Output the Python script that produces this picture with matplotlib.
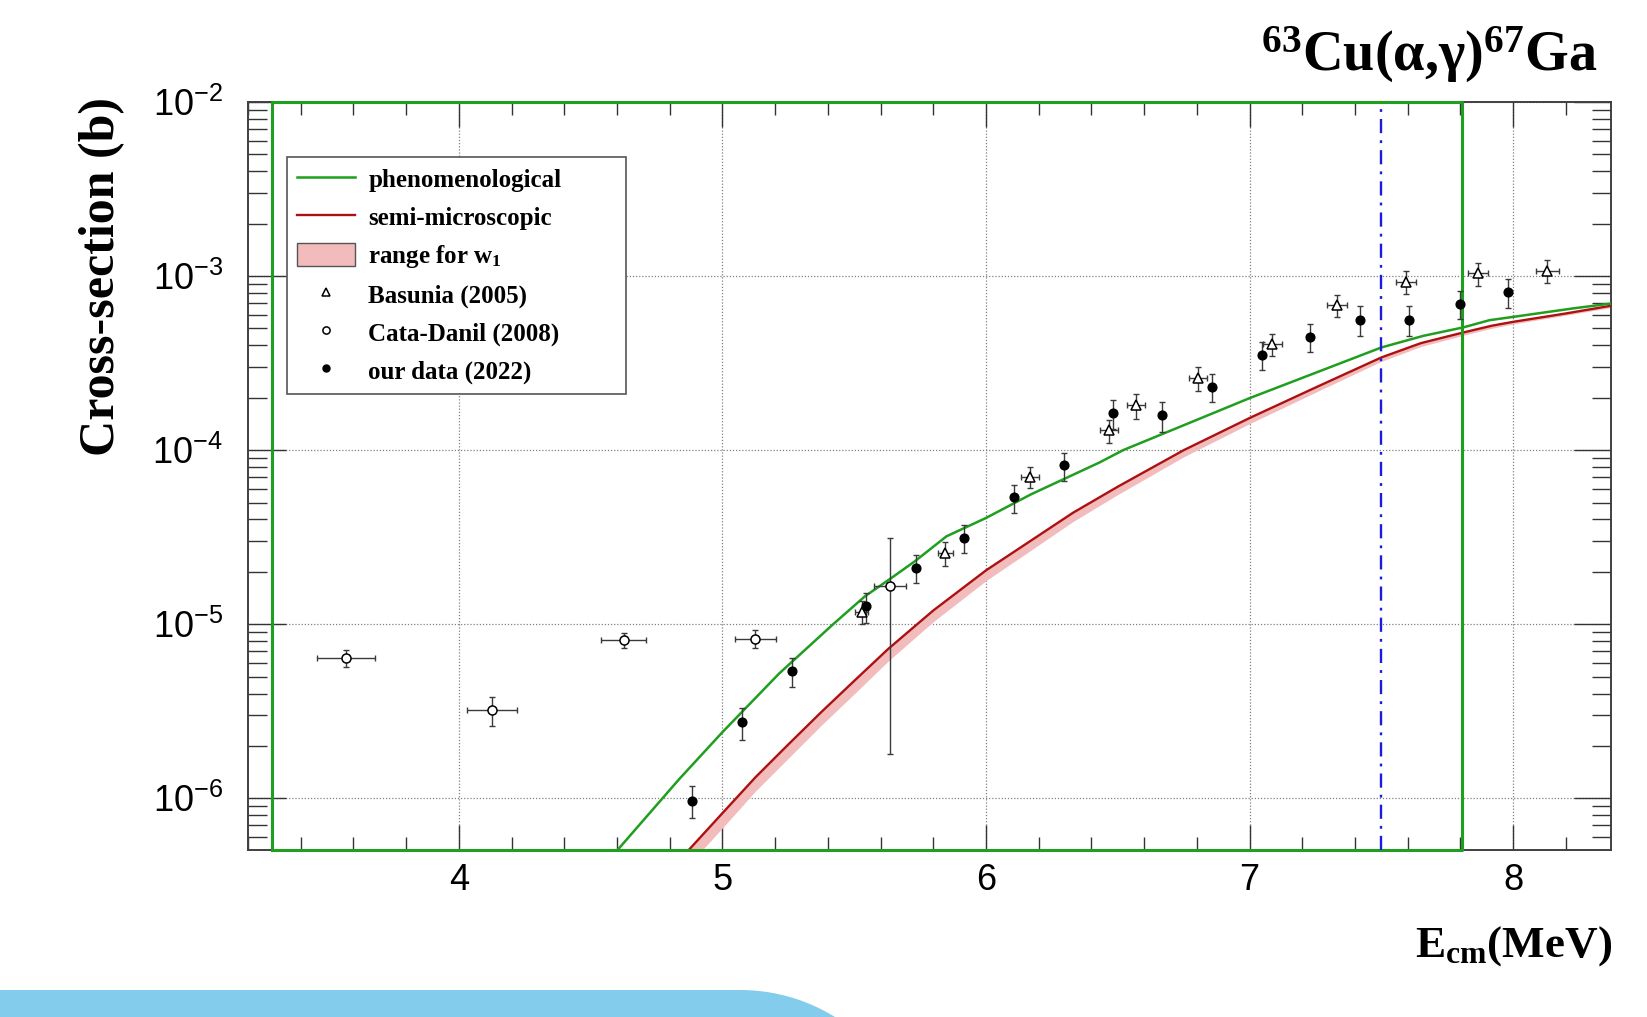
import numpy as np
import matplotlib
matplotlib.use('Agg')
import matplotlib.pyplot as plt
from matplotlib.lines import Line2D
from matplotlib.patches import Patch, Polygon
from matplotlib.ticker import LogLocator, NullFormatter, MultipleLocator, FixedLocator

plt.rcParams['font.family'] = ['Liberation Sans', 'DejaVu Sans']
plt.rcParams['mathtext.fontset'] = 'custom'
plt.rcParams['mathtext.rm'] = 'Liberation Serif:bold'
plt.rcParams['mathtext.bf'] = 'Liberation Serif:bold'
plt.rcParams['mathtext.it'] = 'Liberation Serif:bold'

# ---------------- data ----------------
pheno_E = [4.60, 4.836, 5.00, 5.215, 5.417, 5.54, 5.64, 5.73, 5.85, 6.00, 6.17, 6.43,
           6.52, 7.00, 7.50, 7.66, 7.81, 7.91, 8.00, 8.23, 8.37]
pheno_xs = [5.01e-7, 1.29e-6, 2.40e-6, 5.21e-6, 9.91e-6, 1.445e-5, 1.84e-5, 2.30e-5,
            3.20e-5, 4.08e-5, 5.57e-5, 8.49e-5, 1.0e-4, 1.99e-4, 3.89e-4, 4.54e-4,
            5.07e-4, 5.58e-4, 5.83e-4, 6.53e-4, 6.95e-4]

semi_E = [4.87, 5.00, 5.125, 5.25, 5.375, 5.50, 5.63, 5.80, 6.00, 6.17, 6.33, 6.50,
          6.75, 7.00, 7.25, 7.50, 7.65, 7.81, 7.92, 8.00, 8.20, 8.37]
semi_xs = [5.01e-7, 8.22e-7, 1.32e-6, 2.04e-6, 3.13e-6, 4.73e-6, 7.24e-6, 1.20e-5,
           2.04e-5, 3.02e-5, 4.37e-5, 6.17e-5, 1.0e-4, 1.53e-4, 2.29e-4, 3.41e-4,
           4.12e-4, 4.74e-4, 5.19e-4, 5.46e-4, 6.10e-4, 6.75e-4]
semi_w1_low = [4.12e-7, 6.76e-7, 1.10e-6, 1.70e-6, 2.63e-6, 3.98e-6, 6.17e-6, 1.035e-5,
               1.78e-5, 2.66e-5, 3.89e-5, 5.56e-5, 9.16e-5, 1.42e-4, 2.15e-4, 3.24e-4,
               3.94e-4, 4.57e-4, 5.02e-4, 5.31e-4, 5.96e-4, 6.59e-4]

basunia_E = [5.528, 5.846, 6.167, 6.466, 6.570, 6.805, 7.086, 7.331, 7.594, 7.867, 8.130]
basunia_dE = [0.025, 0.028, 0.035, 0.034, 0.035, 0.035, 0.037, 0.039, 0.038, 0.037, 0.045]
basunia_xs = [1.18e-5, 2.56e-5, 7.0e-5, 1.30e-4, 1.81e-4, 2.60e-4, 4.07e-4, 6.82e-4,
              9.25e-4, 1.035e-3, 1.076e-3]
basunia_dxs = [1.8e-6, 4.0e-6, 9.6e-6, 2.0e-5, 2.9e-5, 4.0e-5, 5.8e-5, 1.0e-4,
               1.4e-4, 1.6e-4, 1.6e-4]

cata_E = [3.573, 4.124, 4.625, 5.124, 5.636]
cata_dE = [0.110, 0.095, 0.086, 0.078, 0.061]
cata_xs = [6.38e-6, 3.21e-6, 8.13e-6, 8.27e-6, 1.66e-5]
cata_dxs = [0.72e-6, 0.62e-6, 0.82e-6, 1.0e-6, 1.48e-5]

our_E = [4.885, 5.073, 5.263, 5.545, 5.734, 5.918, 6.106, 6.295, 6.481, 6.669, 6.858,
         7.047, 7.231, 7.419, 7.606, 7.797, 7.981]
our_xs = [9.7e-7, 2.73e-6, 5.37e-6, 1.27e-5, 2.11e-5, 3.15e-5, 5.35e-5, 8.18e-5,
          1.63e-4, 1.59e-4, 2.32e-4, 3.54e-4, 4.47e-4, 5.62e-4, 5.62e-4, 6.95e-4, 8.11e-4]
our_dxs = [0.2e-6, 0.58e-6, 1.0e-6, 2.5e-6, 3.8e-6, 5.8e-6, 1.0e-5, 1.5e-5, 3.0e-5,
           3.1e-5, 4.3e-5, 6.5e-5, 8.3e-5, 1.08e-4, 1.08e-4, 1.28e-4, 1.55e-4]

fit_window = [3.29, 7.805]
threshold_E = 7.5
x_ticks = [4, 5, 6, 7, 8]
x_range = (3.2, 8.37)
y_range = (5.05e-7, 1e-2)

legend_labels = ['phenomenological', 'semi-microscopic', 'range for w$_1$',
                 'Basunia (2005)', 'Cata-Danil (2008)', 'our data (2022)']

# ---------------- colours ----------------
GREEN = '#1f9e1f'
RED = '#ad1010'
PINK = '#f2bcbc'
BLUE = '#1a1ae0'
ECOL = '#3a3a3a'

W, H = 1647, 1017
fig = plt.figure(figsize=(W / 100, H / 100), dpi=100)
ax = fig.add_axes([248 / W, (H - 850) / H, (1610.7 - 248) / W, (850 - 102) / H])

ax.set_yscale('log')
ax.set_xlim(*x_range)
ax.set_ylim(*y_range)

# grid
ax.grid(True, which='major', linestyle=(0, (1, 1.5)), color='#808080', linewidth=0.9)
ax.set_axisbelow(True)

# band and curves
ax.fill_between(semi_E, semi_w1_low, semi_xs, color=PINK, linewidth=0, zorder=2)
ax.plot(semi_E, semi_xs, color=RED, lw=1.7, zorder=3)
ax.plot(pheno_E, pheno_xs, color=GREEN, lw=1.8, zorder=3)

# green window frame
y0, y1 = ax.get_ylim()
ax.plot([fit_window[0], fit_window[0], fit_window[1], fit_window[1], fit_window[0]],
        [y0, y1, y1, y0, y0], color=GREEN, lw=2.2, zorder=3, clip_on=False)

# threshold line
ax.axvline(threshold_E, color=BLUE, lw=1.7, linestyle=(0, (6, 3, 1.2, 3)), zorder=3)

# data
eb_kw = dict(fmt='none', ecolor=ECOL, elinewidth=1.0, capsize=2.5, capthick=1.0, zorder=4)
ax.errorbar(basunia_E, basunia_xs, xerr=basunia_dE, yerr=basunia_dxs, **eb_kw)
ax.errorbar(cata_E, cata_xs, xerr=cata_dE, yerr=cata_dxs, **eb_kw)
ax.errorbar(our_E, our_xs, yerr=our_dxs, **eb_kw)

h_bas, = ax.plot(basunia_E, basunia_xs, ls='none', marker='^', ms=7.5, mfc='white',
                 mec='black', mew=1.1, zorder=5)
h_cat, = ax.plot(cata_E, cata_xs, ls='none', marker='o', ms=6.5, mfc='white',
                 mec='black', mew=1.1, zorder=5)
h_our, = ax.plot(our_E, our_xs, ls='none', marker='o', ms=6.3, mfc='black',
                 mec='black', mew=1.0, zorder=5)

# ticks
ax.xaxis.set_major_locator(FixedLocator(x_ticks))
ax.xaxis.set_minor_locator(MultipleLocator(0.2))
ax.yaxis.set_major_locator(LogLocator(base=10, numticks=20))
ax.yaxis.set_minor_locator(LogLocator(base=10, subs=np.arange(2, 10), numticks=50))
ax.yaxis.set_minor_formatter(NullFormatter())
ax.tick_params(which='both', direction='in', top=True, right=True, color='#333333',
               width=1.0, labelsize=26)
ax.tick_params(axis='x', which='major', length=18, pad=9)
ax.tick_params(axis='x', which='minor', length=9.5)
ax.tick_params(axis='y', which='major', length=27, pad=18)
ax.tick_params(axis='y', which='minor', length=14)
for s in ax.spines.values():
    s.set_color('#404040')
    s.set_linewidth(1.4)

# legend
handles = [
    Line2D([], [], color=GREEN, lw=1.8),
    Line2D([], [], color=RED, lw=1.7),
    Patch(facecolor=PINK, edgecolor='#555555', linewidth=1.0),
    h_bas, h_cat, h_our,
]
leg = ax.legend(handles, legend_labels, loc='upper left',
                bbox_to_anchor=(0.0287, 0.612, 0.2484, 0.314), mode='expand',
                borderaxespad=0, frameon=True, fancybox=False, framealpha=1,
                edgecolor='#555555', prop={'family': 'Liberation Serif', 'weight': 'bold',
                                           'size': 18},
                handlelength=2.3, handleheight=1.05, handletextpad=0.55, borderpad=0.4,
                labelspacing=0.5, numpoints=1, markerscale=0.8)
leg.get_frame().set_linewidth(1.2)
leg.set_zorder(10)

# labels
serif_bold = dict(family=['Liberation Serif', 'DejaVu Serif'], weight='bold')
fig.text(102 / W, 1 - 276 / H, 'Cross-section (b)', rotation=90, ha='center', va='center',
         fontsize=36, **serif_bold)
fig.text(1612 / W, 1 - 957 / H, 'E$_{cm}$(MeV)', ha='right', va='baseline',
         fontsize=32.5, **serif_bold)
fig.text(1597 / W, 1 - 70.5 / H, '$^{63}$Cu(α,γ)$^{67}$Ga', ha='right', va='baseline',
         fontsize=40.5, **serif_bold)

# decorative banner at the bottom
R = 180.6
cx, cy = 740.0, 27.0 - R
th = np.linspace(np.pi / 2, np.arcsin(-cy / R), 40)
arc = np.column_stack([cx + R * np.cos(th), cy + R * np.sin(th)])
pts = np.vstack([[0, 0], [0, 27], arc, [arc[-1, 0], 0]])
pts[:, 0] /= W
pts[:, 1] /= H
fig.patches.append(Polygon(pts, closed=True, transform=fig.transFigure,
                           facecolor='#84ccec', edgecolor='none', zorder=0))

fig.savefig('out.png', dpi=100)
